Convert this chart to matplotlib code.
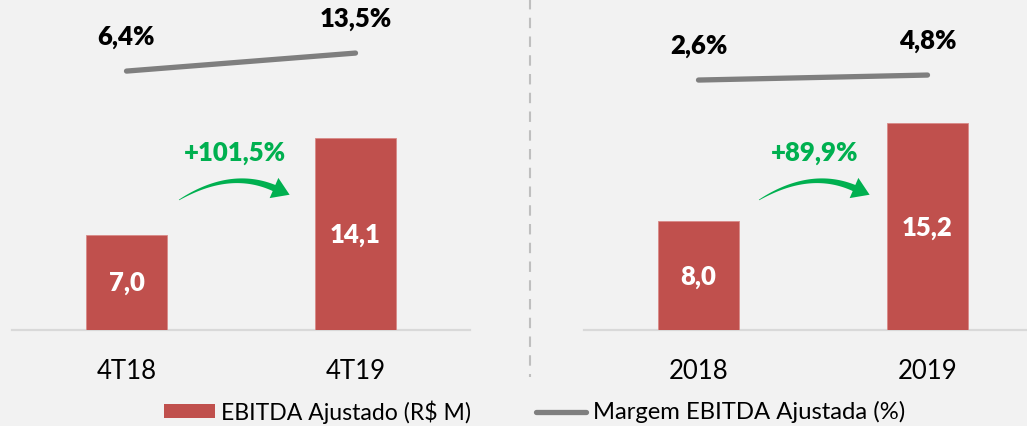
import numpy as np
import matplotlib
matplotlib.use("Agg")
import matplotlib.pyplot as plt
from matplotlib.transforms import Affine2D
from matplotlib.patches import Polygon, Rectangle
from matplotlib.lines import Line2D

plt.rcParams['font.family'] = ['Lato', 'DejaVu Sans']

# ---- data ----
left_categories = ["4T18", "4T19"]
left_ebitda = [7.0, 14.1]
left_margin = [6.4, 13.5]
left_growth = "+101,5%"

right_categories = ["2018", "2019"]
right_ebitda = [8.0, 15.2]
right_margin = [2.6, 4.8]
right_growth = "+89,9%"

legend_labels = ["EBITDA Ajustado (R$ M)", "Margem EBITDA Ajustada (%)"]

# ---- style ----
BG = "#F2F2F2"
BAR = "#C0504D"
LINE = "#7F7F7F"
GREEN = "#00B050"
AXIS = "#D9D9D9"
W, H = 1027, 427
BOLD = "heavy"

fig = plt.figure(figsize=(W / 100, H / 100), dpi=100, facecolor=BG)
px = Affine2D().scale(1 / W, -1 / H).translate(0, 1) + fig.transFigure


def panel(left_px, cats, vals, margins, mlim, growth, arrow_dx):
    ax = fig.add_axes([left_px / W, (H - 331) / H, 458 / W, 331 / H])
    ax.set_facecolor("none")
    x = np.arange(len(cats))
    ax.bar(x, vals, width=0.356, color=BAR, edgecolor="#D98A88", linewidth=0.6, zorder=3)
    ax.set_xlim(-0.5, 1.5)
    ax.set_ylim(0, 331 / 13.6)
    for s in ["top", "right", "left"]:
        ax.spines[s].set_visible(False)
    ax.spines["bottom"].set_color(AXIS)
    ax.spines["bottom"].set_linewidth(1.6)
    ax.set_yticks([])
    ax.set_xticks(x)
    ax.set_xticklabels(cats, fontsize=18.5, color="#000000")
    ax.tick_params(axis="x", length=0, pad=20)
    for xi, v in zip(x, vals):
        ax.text(xi, v / 2, f"{v:.1f}".replace(".", ","), ha="center", va="center",
                color="white", fontsize=18.5, fontweight=BOLD, zorder=4)
    tw = ax.twinx()
    tw.set_ylim(*mlim)
    tw.axis("off")
    tw.plot(x, margins, color=LINE, lw=3.8, solid_capstyle="round", zorder=3)
    for xi, m in zip(x, margins):
        tw.annotate(f"{m:.1f}%".replace(".", ","), (xi, m), xytext=(0, 25),
                    textcoords="offset points", ha="center", va="center",
                    fontsize=18.5, fontweight=BOLD, color="black")
    # curved growth arrow (decoration, pixel coords)
    P0 = np.array([179.0 + arrow_dx, 201.0])
    P1 = np.array([230.0 + arrow_dx, 170.0])
    P2 = np.array([274.0 + arrow_dx, 189.0])
    t = np.linspace(0, 1, 60)[:, None]
    pts = (1 - t) ** 2 * P0 + 2 * (1 - t) * t * P1 + t ** 2 * P2
    der = 2 * (1 - t) * (P1 - P0) + 2 * t * (P2 - P1)
    nrm = np.column_stack([-der[:, 1], der[:, 0]])
    nrm /= np.linalg.norm(nrm, axis=1)[:, None]
    wdt = (0.3 + 3.0 * t[:, 0] ** 0.8)[:, None]
    upper = pts + nrm * wdt
    lower = pts - nrm * wdt
    d = (P2 - P1) / np.linalg.norm(P2 - P1)
    n = np.array([-d[1], d[0]])
    tip = P2 + 17 * d
    hb1 = P2 + n * 11
    hb2 = P2 - n * 11
    poly = np.vstack([upper, hb1, tip, hb2, lower[::-1]])
    fig.patches.append(Polygon(poly, closed=True, transform=px, facecolor=GREEN,
                               edgecolor="none", figure=fig))
    fig.text((235 + arrow_dx) / W, 1 - 153 / H, growth, ha="center", va="center",
             fontsize=18.5, fontweight=BOLD, color=GREEN)
    return ax


panel(12, left_categories, left_ebitda, left_margin, (-95.6, 34.8), left_growth, 0)
panel(584, right_categories, right_ebitda, right_margin, (-107.5, 38.3), right_growth, 580)

# dashed separator
fig.add_artist(Line2D([530, 530], [0, 378], transform=px, color="#BFBFBF",
                      lw=1.5, linestyle=(0, (5, 4))))

# legend (manual)
fig.patches.append(Rectangle((164, 405), 51, 14, transform=px, facecolor=BAR,
                             edgecolor="none", figure=fig))
fig.text(221 / W, 1 - 412 / H, legend_labels[0], ha="left", va="center", fontsize=16.6)
fig.add_artist(Line2D([536, 586], [413, 413], transform=px, color=LINE, lw=3.8,
                      solid_capstyle="round"))
fig.text(593 / W, 1 - 412 / H, legend_labels[1], ha="left", va="center", fontsize=17.2)

fig.savefig("out.png", dpi=100, facecolor=BG)
